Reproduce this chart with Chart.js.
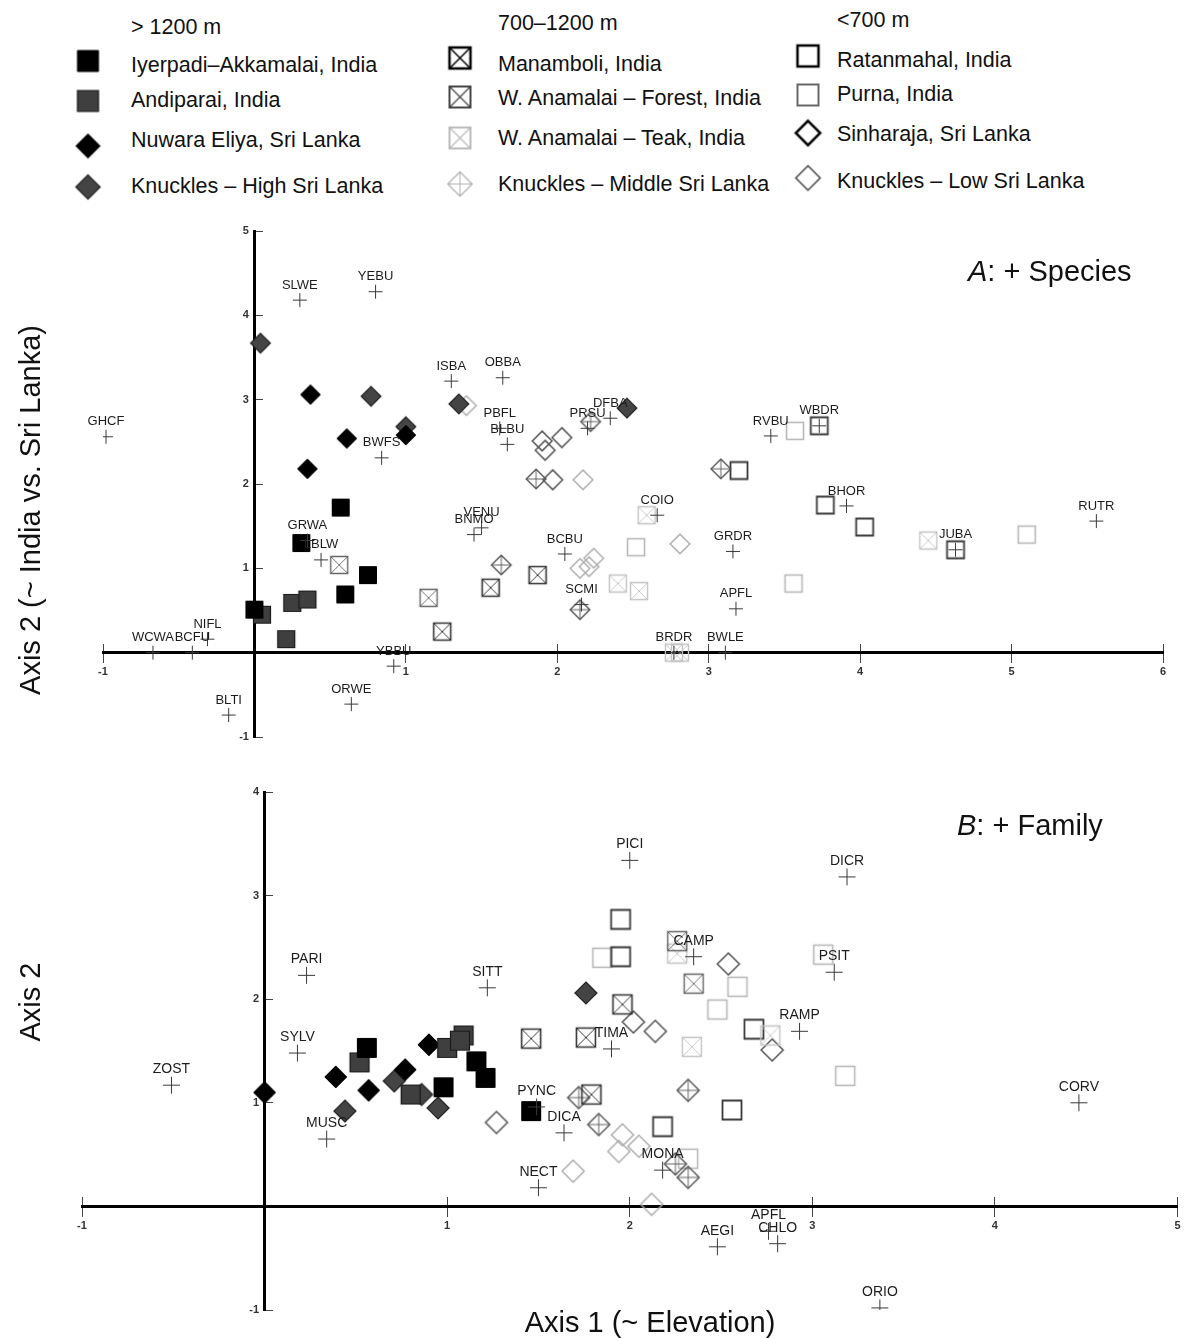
<!DOCTYPE html>
<html lang="en">
<head>
  <meta charset="UTF-8" />
  <title>Bird assemblages – ordination</title>
  <script src="https://cdn.jsdelivr.net/npm/chart.js"></script>
  <style>
    body {
      margin: 0;
      background: #fff;
      font-family: "Liberation Sans", Arial, Helvetica, sans-serif;
      color: #111;
    }
    #page {
      position: relative;
      width: 1188px;
      height: 1338px;
      overflow: hidden;
    }
    .txt {
      position: absolute;
      white-space: nowrap;
      font-size: 21.5px;
      line-height: 24px;
    }
    .big {
      position: absolute;
      white-space: nowrap;
      font-size: 29px;
      line-height: 32px;
    }
    .rot {
      transform: translate(-50%, -50%) rotate(-90deg);
    }
    .mid {
      transform: translate(-50%, -50%);
    }
    canvas {
      position: absolute;
      left: 0;
    }
    .sym {
      position: absolute;
      transform: translate(-50%, -50%);
    }
  </style>
</head>
<body>
  <div id="page">
    <div id="legend"></div>
    <canvas id="panelA" width="1188" height="545" style="top:215px"></canvas>
    <canvas id="panelB" width="1188" height="560" style="top:775px"></canvas>

    <div class="big" style="left:968px; top:255px;"><i>A</i>: + Species</div>
    <div class="big" style="left:957px; top:809px;"><i>B</i>: + Family</div>
    <div class="big rot" style="left:30px; top:510px;">Axis 2 (~ India vs. Sri Lanka)</div>
    <div class="big rot" style="left:30px; top:1002px;">Axis 2</div>
    <div class="big mid" style="left:650px; top:1322px;">Axis 1 (~ Elevation)</div>
  </div>

  <script>
    const FONT = '"Liberation Sans", Arial, Helvetica, sans-serif';

    // legend groups and sites
    const bands = ['> 1200 m', '700–1200 m', '<700 m'];
    const siteNames = [
      'Iyerpadi–Akkamalai, India', 'Andiparai, India', 'Nuwara Eliya, Sri Lanka', 'Knuckles – High Sri Lanka',
      'Manamboli, India', 'W. Anamalai – Forest, India', 'W. Anamalai – Teak, India', 'Knuckles – Middle Sri Lanka',
      'Ratanmahal, India', 'Purna, India', 'Sinharaja, Sri Lanka', 'Knuckles – Low Sri Lanka'
    ];

    // panel A (+ species): site scores [axis1, axis2]
    const iyerpadiA   = [[0.57, 1.72], [0.31, 1.30], [0.75, 0.92], [0.60, 0.69], [0.00, 0.51]];
    const andiparaiA  = [[0.05, 0.45], [0.25, 0.59], [0.35, 0.63], [0.21, 0.16]];
    const nuwaraA     = [[0.37, 3.06], [0.61, 2.54], [0.35, 2.18], [1.00, 2.58]];
    const knHighA     = [[0.04, 3.67], [0.77, 3.04], [1.00, 2.68], [1.35, 2.95], [2.46, 2.90]];
    const manamboliA  = [[1.87, 0.92], [1.56, 0.77], [1.24, 0.25]];
    const forestA     = [[0.56, 1.04], [1.15, 0.65]];
    const teakA       = [[2.59, 1.63], [2.40, 0.82], [2.54, 0.73], [4.45, 1.33], [2.77, 0.00], [2.81, 0.00]];
    const knMidA      = [[1.86, 2.06], [2.22, 2.74], [3.08, 2.18], [1.63, 1.04], [2.15, 0.51]];
    const ratanmahalA = [[3.20, 2.16], [3.77, 1.75], [4.03, 1.49], [3.73, 2.69], [4.63, 1.22]];
    const purnaA      = [[3.57, 2.63], [2.52, 1.25], [3.56, 0.82], [5.10, 1.40]];
    const sinharajaA  = [[1.90, 2.51], [1.92, 2.40], [2.03, 2.55], [1.97, 2.05]];
    const knLowA      = [[1.40, 2.93], [2.17, 2.05], [2.15, 1.00], [2.21, 1.02], [2.24, 1.12], [2.81, 1.29]];

    // panel A species codes and scores
    const speciesA = ['SLWE', 'YEBU', 'GHCF', 'ISBA', 'OBBA', 'PBFL', 'BLBU', 'PRSU', 'DFBA', 'RVBU', 'WBDR',
      'BWFS', 'BHOR', 'RUTR', 'JUBA', 'COIO', 'VENU', 'BNMO', 'BCBU', 'GRDR', 'GRWA', 'LBLW', 'SCMI', 'APFL',
      'NIFL', 'WCWA', 'BCFU', 'BRDR', 'BWLE', 'YBBU', 'ORWE', 'BLTI'];
    const speciesAxy = [[0.30, 4.18], [0.80, 4.28], [-0.98, 2.56], [1.30, 3.22], [1.64, 3.26], [1.62, 2.66],
      [1.67, 2.47], [2.20, 2.66], [2.35, 2.78], [3.41, 2.57], [3.73, 2.69], [0.84, 2.31], [3.91, 1.74],
      [5.56, 1.56], [4.63, 1.22], [2.66, 1.63], [1.50, 1.48], [1.45, 1.40], [2.05, 1.17], [3.16, 1.20],
      [0.35, 1.33], [0.44, 1.10], [2.16, 0.57], [3.18, 0.52], [-0.31, 0.16], [-0.67, 0.00], [-0.41, 0.00],
      [2.77, 0.00], [3.11, 0.00], [0.92, -0.16], [0.64, -0.61], [-0.17, -0.74]];

    // panel B (+ family): site scores
    const iyerpadiB   = [[0.56, 1.53], [1.16, 1.40], [1.21, 1.24], [0.98, 1.15], [1.46, 0.92]];
    const andiparaiB  = [[0.52, 1.39], [1.00, 1.53], [1.09, 1.65], [1.07, 1.60], [0.80, 1.08]];
    const nuwaraB     = [[0.00, 1.10], [0.39, 1.25], [0.57, 1.12], [0.77, 1.32], [0.90, 1.56]];
    const knHighB     = [[0.44, 0.92], [0.71, 1.21], [0.95, 0.95], [0.86, 1.08], [1.76, 2.06]];
    const manamboliB  = [[1.46, 1.62], [1.76, 1.63], [1.96, 1.95], [1.79, 1.08]];
    const forestB     = [[2.35, 2.15], [2.26, 2.56]];
    const teakB       = [[2.26, 2.44], [2.77, 1.65], [2.34, 1.54]];
    const knMidB      = [[1.72, 1.05], [1.83, 0.79], [2.32, 1.12], [2.25, 0.41], [2.32, 0.28]];
    const ratanmahalB = [[1.95, 2.77], [1.95, 2.41], [2.68, 1.71], [2.56, 0.93], [2.18, 0.77]];
    const purnaB      = [[1.85, 2.40], [2.59, 2.12], [2.48, 1.90], [2.32, 0.46], [3.06, 2.43], [3.18, 1.26]];
    const sinharajaB  = [[2.02, 1.78], [2.14, 1.69], [2.54, 2.34], [2.78, 1.51], [1.27, 0.81]];
    const knLowB      = [[1.69, 0.34], [1.96, 0.69], [2.05, 0.58], [1.94, 0.53], [2.12, 0.02]];

    // panel B family codes and scores
    const familiesB = ['ZOST', 'PARI', 'SYLV', 'MUSC', 'SITT', 'PYNC', 'DICA', 'NECT', 'TIMA', 'PICI', 'CAMP',
      'MONA', 'RAMP', 'PSIT', 'DICR', 'CORV', 'AEGI', 'APFL', 'CHLO', 'ORIO'];
    const familiesBxy = [[-0.51, 1.17], [0.23, 2.23], [0.18, 1.48], [0.34, 0.65], [1.22, 2.11], [1.49, 0.96],
      [1.64, 0.71], [1.50, 0.18], [1.90, 1.52], [2.00, 3.34], [2.35, 2.41], [2.18, 0.35], [2.93, 1.69],
      [3.12, 2.26], [3.19, 3.18], [4.46, 1.00], [2.48, -0.39], [2.76, -0.24], [2.81, -0.36], [3.37, -0.98]];

    // axis ranges
    const xRangeA = [-1, 6], yRangeA = [-1, 5];
    const xRangeB = [-1, 5], yRangeB = [-1, 4];

    // marker looks, one per site (plot + legend)
    const SQ = 'square', DI = 'diamond';
    const siteStyles = [
      {shape: SQ, fill: '#000', stroke: '#000', lw: 1},
      {shape: SQ, fill: '#3f3f3f', stroke: '#1a1a1a', lw: 1.2},
      {shape: DI, fill: '#000', stroke: '#000', lw: 1},
      {shape: DI, fill: '#444', stroke: '#222', lw: 1.2},
      {shape: SQ, stroke: '#333', lw: 1.6, inner: 'x', legStroke: '#000', legLw: 2.5},
      {shape: SQ, stroke: '#666', lw: 1.4, inner: 'x', legStroke: '#444', legLw: 2},
      {shape: SQ, stroke: '#c4c4c4', lw: 1.4, inner: 'x', legStroke: '#bbb', legLw: 2},
      {shape: DI, stroke: '#555', lw: 1.4, inner: 'plus', legStroke: '#aaa', legLw: 1.2},
      {shape: SQ, stroke: '#3a3a3a', lw: 1.8, legStroke: '#000', legLw: 2.5},
      {shape: SQ, stroke: '#b5b5b5', lw: 1.5, legStroke: '#666', legLw: 2},
      {shape: DI, stroke: '#555', lw: 1.5, legStroke: '#000', legLw: 2.5},
      {shape: DI, stroke: '#aaa', lw: 1.4, legStroke: '#444', legLw: 1.5}
    ];

    function makeMarker(st, size, legend) {
      const stroke = legend && st.legStroke ? st.legStroke : st.stroke;
      const lw = legend && st.legLw ? st.legLw : st.lw;
      const dim = Math.ceil(size * 1.25 + 6);
      const c = document.createElement('canvas');
      c.width = dim;
      c.height = dim;
      const g = c.getContext('2d');
      const m = dim / 2, h = size / 2, d = size * 0.58;
      g.lineWidth = lw;
      g.strokeStyle = stroke;
      g.beginPath();
      if (st.shape === SQ) {
        g.rect(m - h, m - h, size, size);
      } else {
        g.moveTo(m, m - d);
        g.lineTo(m + d, m);
        g.lineTo(m, m + d);
        g.lineTo(m - d, m);
        g.closePath();
      }
      if (st.fill) {
        g.fillStyle = st.fill;
        g.fill();
      }
      g.stroke();
      g.lineWidth = Math.max(0.9, lw * 0.6);
      g.beginPath();
      if (st.inner === 'x') {
        g.moveTo(m - h, m - h); g.lineTo(m + h, m + h);
        g.moveTo(m + h, m - h); g.lineTo(m - h, m + h);
      } else if (st.inner === 'plus') {
        g.moveTo(m, m - d); g.lineTo(m, m + d);
        g.moveTo(m - d, m); g.lineTo(m + d, m);
      }
      g.stroke();
      return c;
    }

    // legend built in HTML
    const legendCols = [
      {band: 0, left: 131, symX: 88, headY: 27, textY: [65, 100, 140, 186], symY: [61, 101, 146, 187]},
      {band: 1, left: 498, symX: 460, headY: 23, textY: [64, 98, 138, 184], symY: [58, 97, 138, 184]},
      {band: 2, left: 837, symX: 808, headY: 20, textY: [60, 94, 134, 181], symY: [56, 95, 133, 178]}
    ];
    const legend = document.getElementById('legend');
    legendCols.forEach((col, ci) => {
      const head = document.createElement('div');
      head.className = 'txt';
      head.style.left = col.left + 'px';
      head.style.top = (col.headY - 12) + 'px';
      head.textContent = bands[col.band];
      legend.appendChild(head);
      for (let r = 0; r < 4; r++) {
        const i = ci * 4 + r;
        const t = document.createElement('div');
        t.className = 'txt';
        t.style.left = col.left + 'px';
        t.style.top = (col.textY[r] - 12) + 'px';
        t.textContent = siteNames[i];
        legend.appendChild(t);
        const s = makeMarker(siteStyles[i], 21, true);
        s.className = 'sym';
        s.style.left = col.symX + 'px';
        s.style.top = col.symY[r] + 'px';
        legend.appendChild(s);
      }
    });

    // labels above the species / family crosses
    const codeLabels = {
      id: 'codeLabels',
      afterDatasetsDraw(chart, args, opts) {
        const ds = chart.data.datasets[0];
        const meta = chart.getDatasetMeta(0);
        const ctx = chart.ctx;
        ctx.save();
        ctx.font = opts.size + 'px ' + FONT;
        ctx.fillStyle = '#1c1c1c';
        ctx.textAlign = 'center';
        ctx.textBaseline = 'middle';
        meta.data.forEach((pt, i) => ctx.fillText(ds.codes[i], pt.x, pt.y - opts.offset));
        ctx.restore();
      }
    };

    const toXY = pts => pts.map(p => ({x: p[0], y: p[1]}));

    function drawPanel(id, sitePts, codes, codeXY, o) {
      const datasets = [{
        label: 'codes',
        data: toXY(codeXY),
        codes: codes,
        pointStyle: 'cross',
        pointRadius: o.cross,
        borderColor: '#3a3a3a',
        backgroundColor: '#3a3a3a',
        borderWidth: 1
      }];
      sitePts.forEach((pts, i) => {
        datasets.push({
          label: siteNames[i],
          data: toXY(pts),
          pointStyle: makeMarker(siteStyles[i], o.mark, false),
          pointRadius: o.mark / 2
        });
      });

      const tickFont = {family: FONT, size: 11, weight: 'bold'};
      const hideZero = v => (v === 0 ? '' : v);
      // y labels sit right-aligned on the axis; an en space keeps them clear of it
      const yLabel = v => (v === 0 ? '' : v + '\u2002');

      new Chart(document.getElementById(id), {
        type: 'scatter',
        data: {datasets},
        options: {
          responsive: false,
          animation: false,
          events: [],
          layout: {padding: o.pad},
          plugins: {
            legend: {display: false},
            tooltip: {enabled: false},
            codeLabels: {size: o.font, offset: o.off}
          },
          scales: {
            x: {
              type: 'linear', min: o.xr[0], max: o.xr[1], position: {y: 0},
              border: {display: true, color: '#000', width: 3},
              grid: {display: true, drawOnChartArea: false, drawTicks: true, tickLength: 9, color: '#444', lineWidth: 1},
              ticks: {stepSize: 1, autoSkip: false, maxRotation: 0, padding: 4, color: '#333', font: tickFont, callback: hideZero}
            },
            xUp: {
              axis: 'x', type: 'linear', min: o.xr[0], max: o.xr[1], position: {y: 0},
              border: {display: false},
              grid: {display: true, drawOnChartArea: false, drawTicks: true, tickLength: -9, color: '#444', lineWidth: 1},
              ticks: {stepSize: 1, autoSkip: false, display: false}
            },
            y: {
              type: 'linear', min: o.yr[0], max: o.yr[1], position: {x: 0},
              border: {display: true, color: '#000', width: 3},
              grid: {display: true, drawOnChartArea: false, drawTicks: true, tickLength: -10, color: '#444', lineWidth: 1},
              ticks: {stepSize: 1, autoSkip: false, padding: 0, color: '#333', font: tickFont, callback: yLabel}
            }
          }
        },
        plugins: [codeLabels]
      });
    }

    drawPanel('panelA',
      [iyerpadiA, andiparaiA, nuwaraA, knHighA, manamboliA, forestA, teakA, knMidA, ratanmahalA, purnaA, sinharajaA, knLowA],
      speciesA, speciesAxy,
      {xr: xRangeA, yr: yRangeA, mark: 17, cross: 7, font: 13, off: 15,
       pad: {left: 103, right: 25, top: 16, bottom: 23}});

    drawPanel('panelB',
      [iyerpadiB, andiparaiB, nuwaraB, knHighB, manamboliB, forestB, teakB, knMidB, ratanmahalB, purnaB, sinharajaB, knLowB],
      familiesB, familiesBxy,
      {xr: xRangeB, yr: yRangeB, mark: 19, cross: 8.5, font: 14, off: 16,
       pad: {left: 82, right: 10, top: 17, bottom: 25}});
  </script>
</body>
</html>
